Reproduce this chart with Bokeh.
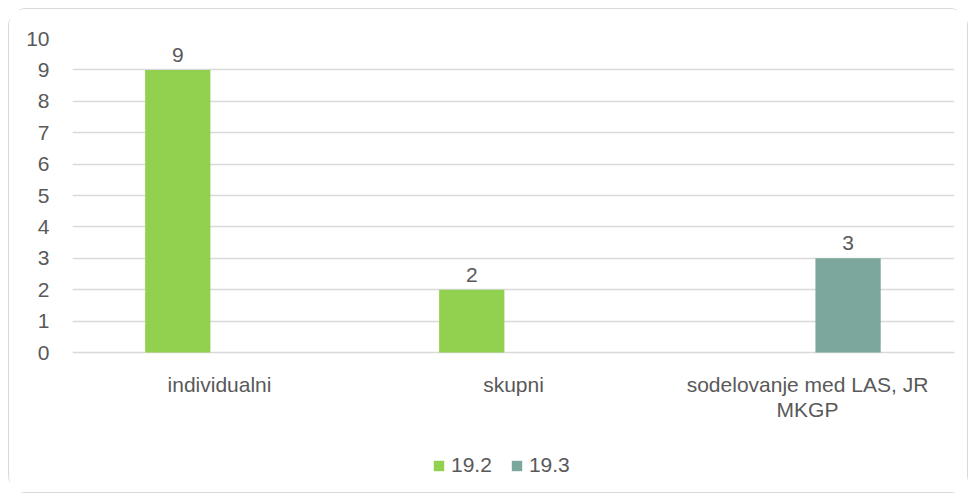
from bokeh.plotting import figure
from bokeh.models import FactorRange, FixedTicker, ColumnDataSource, Legend, LegendItem
from bokeh.transform import dodge
from bokeh.core.properties import value
from bokeh.embed import file_html
from bokeh.resources import INLINE

categories = ["individualni", "skupni", "sodelovanje med LAS, JR\nMKGP"]
series_names = ["19.2", "19.3"]
values_192 = [9, 2, None]
values_193 = [None, None, 3]
y_ticks = [0, 1, 2, 3, 4, 5, 6, 7, 8, 9, 10]

FONT = "Liberation Sans"
FS = "21px"
TXT = "#595959"
GREEN = "#92D050"
TEAL = "#7BA79D"
GRID = "#D9D9D9"

# layout geometry (pixels)
W, H = 960, 485
TOP, LEFT, RIGHT = 29, 63, 15
ZERO_PX = 343          # distance from content top to the 0 line
frame_h = H - TOP
unit = (ZERO_PX - TOP) / 10.0
y_start = -(frame_h - (ZERO_PX - TOP)) / unit

nan = float("nan")
src = ColumnDataSource(dict(
    cat=categories,
    v192=[nan if v is None else v for v in values_192],
    v193=[nan if v is None else v for v in values_193],
))

p = figure(x_range=FactorRange(*categories, range_padding=0), y_range=(y_start, 10),
           width=W, height=H, output_backend="svg", toolbar_location=None,
           min_border_left=LEFT, min_border_right=RIGHT, min_border_top=TOP, min_border_bottom=0)
p.styles = {"border": "1px solid #D9D9D9", "border-radius": "18px",
            "margin-left": "8px", "margin-top": "8px"}
p.outline_line_color = None

r1 = p.vbar(x=dodge("cat", -0.142, range=p.x_range), top="v192", bottom=0, width=0.222, source=src,
            fill_color=GREEN, line_color=None)
r2 = p.vbar(x=dodge("cat", 0.138, range=p.x_range), top="v193", bottom=0, width=0.222, source=src,
            fill_color=TEAL, line_color=None)

lab1 = ColumnDataSource(dict(cat=[c for c, v in zip(categories, values_192) if v is not None],
                             y=[v for v in values_192 if v is not None],
                             t=[str(v) for v in values_192 if v is not None]))
lab2 = ColumnDataSource(dict(cat=[c for c, v in zip(categories, values_193) if v is not None],
                             y=[v for v in values_193 if v is not None],
                             t=[str(v) for v in values_193 if v is not None]))
for s, off in ((lab1, -0.142), (lab2, 0.138)):
    p.text(x=dodge("cat", off, range=p.x_range), y="y", text="t", source=s,
           text_font=value(FONT), text_font_size=FS, text_color=TXT,
           text_align="center", text_baseline="bottom", y_offset=-8)

# category labels below the zero line
cat_src = ColumnDataSource(dict(cat=categories, y=[0] * len(categories)))
p.text(x="cat", y="y", text="cat", source=cat_src,
       text_font=value(FONT), text_font_size=FS, text_color=TXT,
       text_align="center", text_baseline="top", y_offset=20, text_line_height=1.1)

p.yaxis.ticker = FixedTicker(ticks=y_ticks)
p.yaxis.axis_line_color = None
p.yaxis.major_tick_line_color = None
p.yaxis.minor_tick_line_color = None
p.yaxis.major_label_text_font = FONT
p.yaxis.major_label_text_font_size = FS
p.yaxis.major_label_text_color = TXT
p.yaxis.major_label_standoff = 17
p.xaxis.visible = False

p.xgrid.grid_line_color = None
p.ygrid.ticker = FixedTicker(ticks=y_ticks)
p.ygrid.grid_line_color = GRID
p.ygrid.grid_line_width = 1.5

legend = Legend(items=[LegendItem(label=series_names[0], renderers=[r1]),
                       LegendItem(label=series_names[1], renderers=[r2])],
                location=(360, 17), orientation="horizontal",
                glyph_width=13, glyph_height=13, label_standoff=6, spacing=18,
                padding=0, margin=0, border_line_color=None, background_fill_alpha=0,
                label_text_font=FONT, label_text_font_size=FS, label_text_color=TXT)
p.add_layout(legend, "center")

open("out.html", "w").write(file_html(p, INLINE))
